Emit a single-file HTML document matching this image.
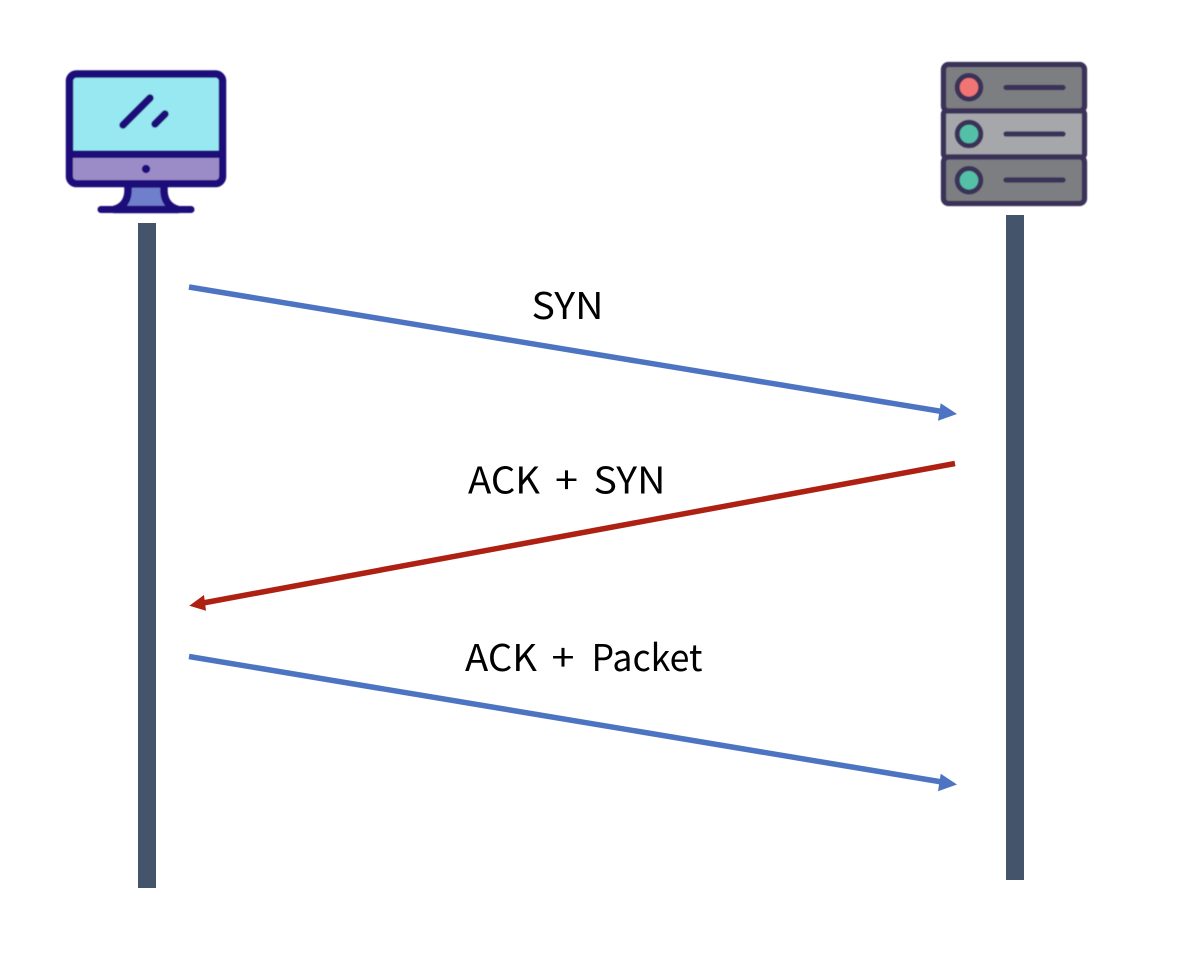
<!DOCTYPE html>
<html>
<head>
<meta charset="utf-8">
<style>
html,body{margin:0;padding:0;background:#fff;width:1192px;height:978px;overflow:hidden}
svg{display:block}
text{font-family:"Noto Sans CJK KR","Liberation Sans",sans-serif;font-size:37px;fill:#000}
</style>
</head>
<body>
<svg width="1192" height="978" viewBox="0 0 1192 978" xmlns="http://www.w3.org/2000/svg">
<defs><filter id="soft" x="-5%" y="-5%" width="110%" height="110%"><feGaussianBlur stdDeviation="0.4"/></filter></defs>
<rect width="1192" height="978" fill="#fff"/>

<!-- Monitor -->
<g filter="url(#soft)">
<path d="M128 184H164V192Q165 206 178 209.500H114Q127 206 128 192Z" fill="#6f7fcb" stroke="#1f0f7a" stroke-width="7.500" stroke-linejoin="round"/>
<rect x="69.500" y="74" width="153" height="109.500" rx="7" fill="#97e8f1" stroke="#1f0f7a" stroke-width="7.500"/>
<path d="M73 158H219V176Q219 180 215 180H77Q73 180 73 176Z" fill="#9b8cc8"/>
<rect x="70" y="150.500" width="152" height="7.500" fill="#1f0f7a"/>
<circle cx="146" cy="169" r="4.200" fill="#1f0f7a"/>
<line x1="123" y1="125" x2="150" y2="98" stroke="#1f0f7a" stroke-width="7.500" stroke-linecap="round"/>
<line x1="155" y1="124" x2="165" y2="114" stroke="#1f0f7a" stroke-width="7.500" stroke-linecap="round"/>
<line x1="101" y1="209.500" x2="191" y2="209.500" stroke="#1f0f7a" stroke-width="7" stroke-linecap="round"/>
</g>

<!-- Server -->
<g filter="url(#soft)">
<rect x="943.500" y="64.500" width="141" height="46.500" rx="5" fill="#7d7e81" stroke="#3b3359" stroke-width="5.300"/>
<rect x="943.500" y="111" width="141" height="46" rx="3" fill="#a6a7ab" stroke="#3b3359" stroke-width="5.300"/>
<rect x="943.500" y="157" width="141" height="46.500" rx="5" fill="#7d7e81" stroke="#3b3359" stroke-width="5.300"/>
<circle cx="969" cy="87.300" r="11.800" fill="#f27475" stroke="#3b3359" stroke-width="5"/>
<circle cx="969" cy="134" r="11.800" fill="#55c0a8" stroke="#3b3359" stroke-width="5"/>
<circle cx="969" cy="180.300" r="11.800" fill="#55c0a8" stroke="#3b3359" stroke-width="5"/>
<line x1="1006" y1="87.500" x2="1063" y2="87.500" stroke="#3b3359" stroke-width="5.300" stroke-linecap="round"/>
<line x1="1006" y1="134" x2="1063" y2="134" stroke="#3b3359" stroke-width="5.300" stroke-linecap="round"/>
<line x1="1006" y1="180" x2="1063" y2="180" stroke="#3b3359" stroke-width="5.300" stroke-linecap="round"/>
</g>

<!-- Lifelines -->
<rect x="138" y="223" width="18" height="665" fill="#44546a"/>
<rect x="1006" y="215" width="18" height="665" fill="#44546a"/>

<!-- Arrows -->
<line x1="189" y1="287" x2="942" y2="411.500" stroke="#4d74c2" stroke-width="5.500"/>
<polygon points="957,414 940.700,403.300 938,420.700" fill="#4d74c2"/>

<line x1="955" y1="463.500" x2="203" y2="603" stroke="#ae2012" stroke-width="5.500"/>
<polygon points="189.300,605.700 204,595 206,610.700" fill="#ae2012"/>

<line x1="189" y1="656.500" x2="942" y2="782" stroke="#4d74c2" stroke-width="5.500"/>
<polygon points="957,784.500 940.700,773.800 938,791.200" fill="#4d74c2"/>

<!-- Labels -->
<text x="531.500" y="319" textLength="72" lengthAdjust="spacingAndGlyphs">SYN</text>

<text x="468" y="493.500" textLength="72" lengthAdjust="spacingAndGlyphs">ACK</text>
<text x="555" y="493.500" textLength="23" lengthAdjust="spacingAndGlyphs">+</text>
<text x="593.500" y="493.500" textLength="72" lengthAdjust="spacingAndGlyphs">SYN</text>

<text x="465" y="671" textLength="72" lengthAdjust="spacingAndGlyphs">ACK</text>
<text x="551.500" y="671" textLength="23" lengthAdjust="spacingAndGlyphs">+</text>
<text x="591.500" y="671" textLength="111" lengthAdjust="spacingAndGlyphs">Packet</text>
</svg>
</body>
</html>
